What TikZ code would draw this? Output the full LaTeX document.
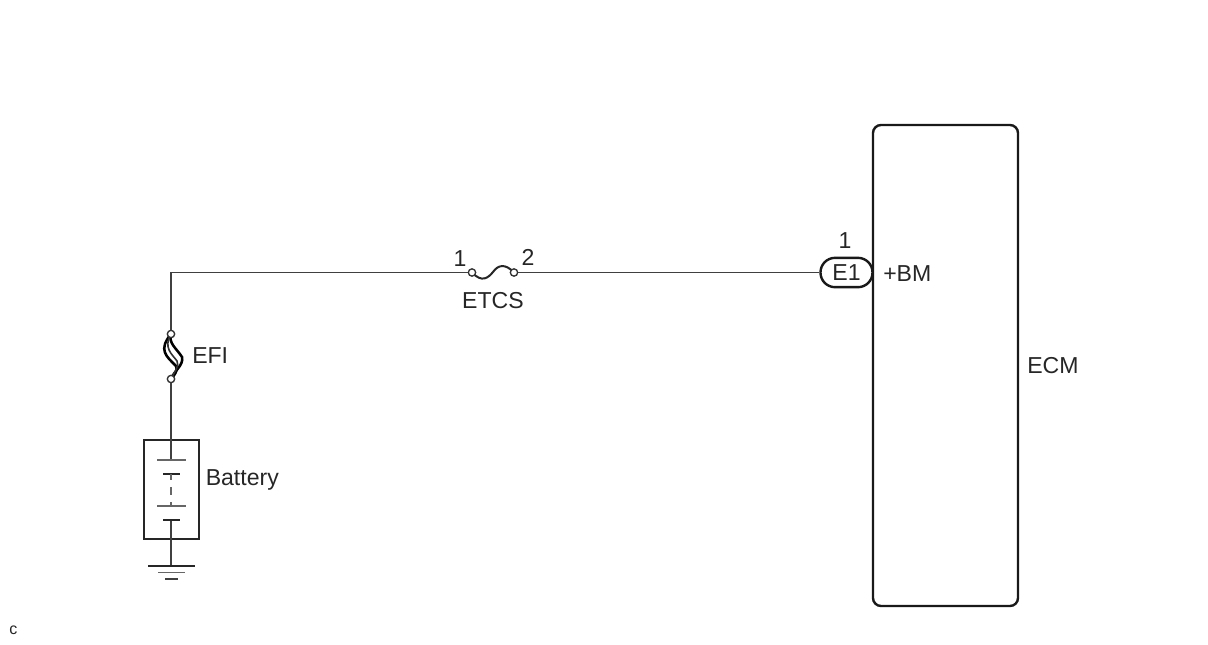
\documentclass[tikz,border=0pt]{standalone}
\usepackage{fontspec}
\setmainfont{Liberation Sans}
\usepackage{tikz}
\usetikzlibrary{positioning}
\newcommand{\wireWidth}[0]{1.4pt}

\begin{document}
\begin{tikzpicture}[x=0.75pt, y=-0.75pt]
  \tikzset{wire/.style={draw=black!75,line width=\wireWidth},
    plate/.style={draw=black!60,line width=1.1pt},
    cell/.style={draw=black!85,line width=2pt},
    term/.style={circle,draw=black!80,fill=white,line width=1pt,inner sep=0pt,minimum size=5.5pt},
    label/.style={inner sep=0pt,font=\fontsize{17.3pt}{19pt}\selectfont,text=black!85},
    ecmbox/.style={draw=black!90,line width=1.8pt,rounded corners=6pt,minimum width=108.75pt,minimum height=360.75pt,inner sep=0pt},
    conn/.style={draw=black!90,line width=1.8pt,rounded corners=10.9pt,minimum width=39pt,minimum height=22pt,inner sep=0pt,fill=white,text=black!85,font=\fontsize{17.3pt}{19pt}\selectfont},
    batbox/.style={draw=black!85,line width=1.6pt,minimum width=41.25pt,minimum height=74.25pt,inner sep=0pt}}
  \useasboundingbox (0,0) rectangle (1208,644);
  \node[ecmbox] (ecm) at (945.5,365.5) {};
  \node[batbox] (battery) at (171.5,489.5) {};
  \node[conn] (e1) at (846.5,272.5) {E1};
  \coordinate (corner) at (171,272.5);
  \coordinate (platea) at (171,460);
  \coordinate (plated) at (171,520);
  \coordinate (gnd) at (171,566);
  % fuses
  \draw[black,line width=1.9pt] (171,334) .. controls (158,350) and (166,356) .. (176,366) .. controls (178,370) and (175,375) .. (171,379);
  \draw[black,line width=1.9pt] (171,334) .. controls (168,343) and (177,349) .. (182,357) .. controls (184,365) and (174,371) .. (171,379);
  \draw[black!80,line width=1.2pt] (171,334) .. controls (163,348) and (172,354) .. (177,361) .. controls (180,366) and (174,372) .. (171,379);
  \draw[black!85,line width=1.5pt] (472,272.5) .. controls (482,283) and (488,278) .. (493,272)
    .. controls (498,265) and (505,263) .. (514,272.5);
  \node[term] (etcsa) at (472,272.5) {};
  \node[term] (etcsb) at (514,272.5) {};
  \node[term] (efia) at (171,334) {};
  \node[term] (efib) at (171,379) {};
  % wires
  \draw[wire] (e1.west) -- (etcsb.east);
  \draw[wire] (etcsa.west) -- (corner) -- (efia.north);
  \draw[wire] (efib.south) -- (platea);
  \draw[wire] (plated) -- (gnd);
  % battery
  \draw[plate] (157,460) -- (186,460);
  \draw[cell] (163,474) -- (180,474);
  \draw[plate] (171,474) -- (171,480);
  \draw[plate] (171,487) -- (171,495);
  \draw[plate] (171,502) -- (171,506);
  \draw[plate] (157,506) -- (186,506);
  \draw[cell] (163,520) -- (180,520);
  % ground
  \draw[black!85,line width=1.6pt] (148,566) -- (195,566);
  \draw[plate] (158,572.5) -- (185,572.5);
  \draw[black!75,line width=1.3pt] (165,579) -- (178,579);
  % labels
  \node[label] (etcs1) at (460,259) {1};
  \node[label] (etcs2) at (528,257.5) {2};
  \node[label] (etcs) at (493,300.5) {ETCS};
  \node[label] (e1pin) at (845,241) {1};
  \node[label,anchor=west] (bm) at (883,274) {+BM};
  \node[label,anchor=west] (ecmlabel) at (1027,366) {ECM};
  \node[label,anchor=west] (efi) at (192,356) {EFI};
  \node[label,anchor=west] (batterylabel) at (205.5,480) {Battery};
  \node[label,font=\fontsize{12pt}{14pt}\selectfont] (note) at (13.5,630) {c};
\end{tikzpicture}
\end{document}
